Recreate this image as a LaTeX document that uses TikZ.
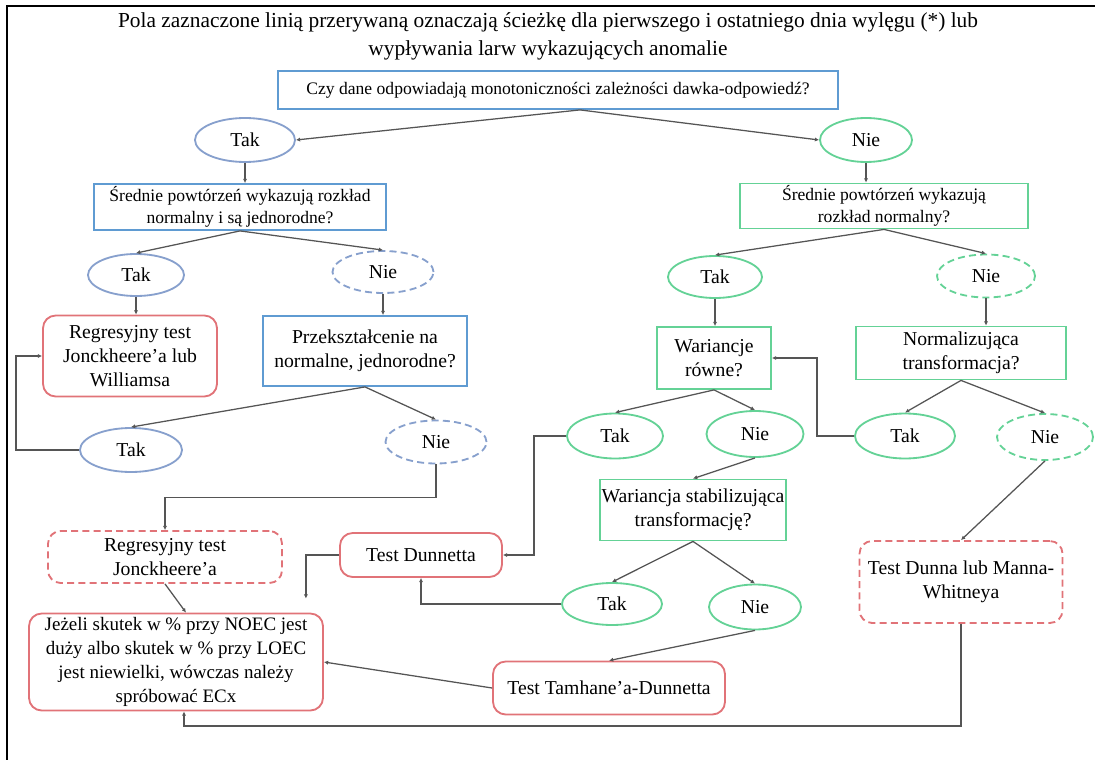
\documentclass[tikz,border=0pt]{standalone}
\usepackage{fontspec}
\setmainfont{Liberation Serif}
\usetikzlibrary{calc,arrows.meta,shapes.geometric}
\definecolor{qBlue}{RGB}{95,155,210}
\definecolor{qGreen}{RGB}{100,210,150}
\definecolor{testRed}{RGB}{225,115,120}
\definecolor{ovalBlue}{RGB}{135,160,205}
\definecolor{linkGray}{RGB}{85,85,85}
\begin{document}
\begin{tikzpicture}[x=0.025cm,y=-0.025cm,line join=miter,
  wh/.style 2 args={minimum width=#1*0.025cm,minimum height=#2*0.025cm},
  txt/.style={font=\fontsize{14}{17}\selectfont,align=center,inner sep=1pt},
  small/.style={font=\fontsize{12.5}{15.5}\selectfont},
  qbox/.style={txt,rectangle,draw,line width=1.3pt},
  test/.style={txt,rectangle,rounded corners=9pt,draw=testRed,line width=1.3pt},
  oval/.style={txt,ellipse,draw,line width=1.3pt},
  anomaly/.style={dash pattern=on 5pt off 3pt},
  link/.style={linkGray,line width=0.9pt,-{Latex[length=3pt,width=3pt]}}]
  \useasboundingbox (0,0) rectangle (1095,760);
  \draw[line width=1.6pt] (7,760) -- (7,6) -- (1095,6);
  \node[font=\fontsize{15.2}{20}\selectfont,align=center] (title) at (548,36) {Pola zaznaczone linią przerywaną oznaczają ścieżkę dla pierwszego i ostatniego dnia wylęgu (*) lub\\wypływania larw wykazujących anomalie};
  % first question
  \node[qbox,small,draw=qBlue,wh={560}{38}] (q0) at (558,90) {Czy dane odpowiadają monotoniczności zależności dawka-odpowiedź?};
  \node[oval,draw=ovalBlue,wh={100}{44}] (t1) at (245,140) {Tak};
  \node[oval,draw=qGreen,wh={92}{44}] (n1) at (866,140) {Nie};
  % left branch
  \node[qbox,small,draw=qBlue,wh={292}{46}] (q1L) at (240,207) {Średnie powtórzeń wykazują rozkład\\normalny i są jednorodne?};
  \node[oval,draw=ovalBlue,wh={96}{42}] (t2L) at (136,275) {Tak};
  \node[oval,draw=ovalBlue,anomaly,wh={101}{42}] (n2L) at (383,272) {Nie};
  \node[test,wh={174}{81}] (rJW) at (130,356) {Regresyjny test\\Jonckheere’a lub\\Williamsa};
  \node[qbox,draw=qBlue,wh={204}{70}] (qP) at (365,351) {Przekształcenie na\\normalne, jednorodne?};
  \node[oval,draw=ovalBlue,wh={102}{44}] (t3L) at (131,450) {Tak};
  \node[oval,draw=ovalBlue,anomaly,wh={101}{43}] (n3L) at (436,442) {Nie};
  \node[test,anomaly,wh={234}{52}] (rJ) at (165,557) {Regresyjny test\\Jonckheere’a};
  \node[test,font=\fontsize{13.5}{17}\selectfont,wh={294}{97}] (rE) at (176,662) {Jeżeli skutek w \% przy NOEC jest\\duży albo skutek w \% przy LOEC\\jest niewielki, wówczas należy\\spróbować ECx};
  % right branch
  \node[qbox,small,draw=qGreen,wh={288}{45}] (q1R) at (884,206) {Średnie powtórzeń wykazują\\rozkład normalny?};
  \node[oval,draw=qGreen,wh={94}{42}] (t2R) at (715,277) {Tak};
  \node[oval,draw=qGreen,anomaly,wh={98}{43}] (n2R) at (986,276) {Nie};
  \node[qbox,draw=qGreen,wh={114}{62}] (qW) at (714,358) {Wariancje\\równe?};
  \node[qbox,draw=qGreen,wh={210}{53}] (qN) at (961,353) {Normalizująca\\transformacja?};
  \node[oval,draw=qGreen,wh={96}{45}] (t3W) at (615,436) {Tak};
  \node[oval,draw=qGreen,wh={97}{46}] (n3W) at (755,434) {Nie};
  \node[oval,draw=qGreen,wh={100}{45}] (t3N) at (905,436) {Tak};
  \node[oval,draw=qGreen,anomaly,wh={96}{46}] (n3N) at (1045,437) {Nie};
  \node[qbox,draw=qGreen,wh={180}{61}] (qS) at (693,510) {Wariancja stabilizująca\\transformację?};
  \node[test,wh={162}{44}] (rD) at (421,555) {Test Dunnetta};
  \node[test,anomaly,wh={203}{82}] (rDM) at (961,582) {Test Dunna lub Manna-\\Whitneya};
  \node[oval,draw=qGreen,wh={100}{42}] (t4) at (612,604) {Tak};
  \node[oval,draw=qGreen,wh={92}{45}] (n4) at (755,607) {Nie};
  \node[test,wh={232}{53}] (rT) at (609,688) {Test Tamhane’a-Dunnetta};
  % connectors
  \draw[link] ($(q0.south)+(22,0)$) -- (t1.east);
  \draw[link] ($(q0.south)+(22,0)$) -- (n1.west);
  \draw[link] (t1.south) -- (t1.south |- q1L.north);
  \draw[link] (n1.south) -- (n1.south |- q1R.north);
  \draw[link] (q1L.south) -- (t2L.north);
  \draw[link] (q1L.south) -- (n2L.north);
  \draw[link] (q1R.south) -- (t2R.north);
  \draw[link] (q1R.south) -- (n2R.north);
  \draw[link] (t2L.south) -- (t2L.south |- rJW.north);
  \draw[link] (n2L.south) -- (n2L.south |- qP.north);
  \draw[link] (t2R.south) -- (t2R.south |- qW.north);
  \draw[link] (n2R.south) -- (n2R.south |- qN.north);
  \draw[link] (qP.south) -- (t3L.north);
  \draw[link] (qP.south) -- (n3L.north);
  \draw[link] (t3L.west) -- ++(-63,0) |- (rJW.west);
  \draw[link] (n3L.south) -- ++(0,33) -| (rJ.north);
  \draw[link] (qW.south) -- (t3W.north);
  \draw[link] (qW.south) -- (n3W.north);
  \draw[link] (qN.south) -- (t3N.north);
  \draw[link] (qN.south) -- (n3N.north);
  \draw[link] (t3N.west) -- ++(-37,0) |- (qW.east);
  \draw[link] (n3W.south) -- (qS.north);
  \draw[link] (n3N.south) -- (rDM.north);
  \draw[link] (t3W.west) -- ++(-32,0) |- (rD.east);
  \draw[link,shorten >=0.35cm] (rD.west) -| ([xshift=-0.45cm]rE.north east);
  \draw[link] (qS.south) -- (t4.north);
  \draw[link] (qS.south) -- (n4.north);
  \draw[link] (t4.west) -| (rD.south);
  \draw[link] (n4.south) -- (rT.north);
  \draw[link] (rT.west) -- (rE.east);
  \draw[link] (rJ.south) -- ($(rE.north)+(10,0)$);
  \draw[link] (rDM.south) -- ++(0,102) -| ($(rE.south)+(8,0)$);
\end{tikzpicture}
\end{document}
